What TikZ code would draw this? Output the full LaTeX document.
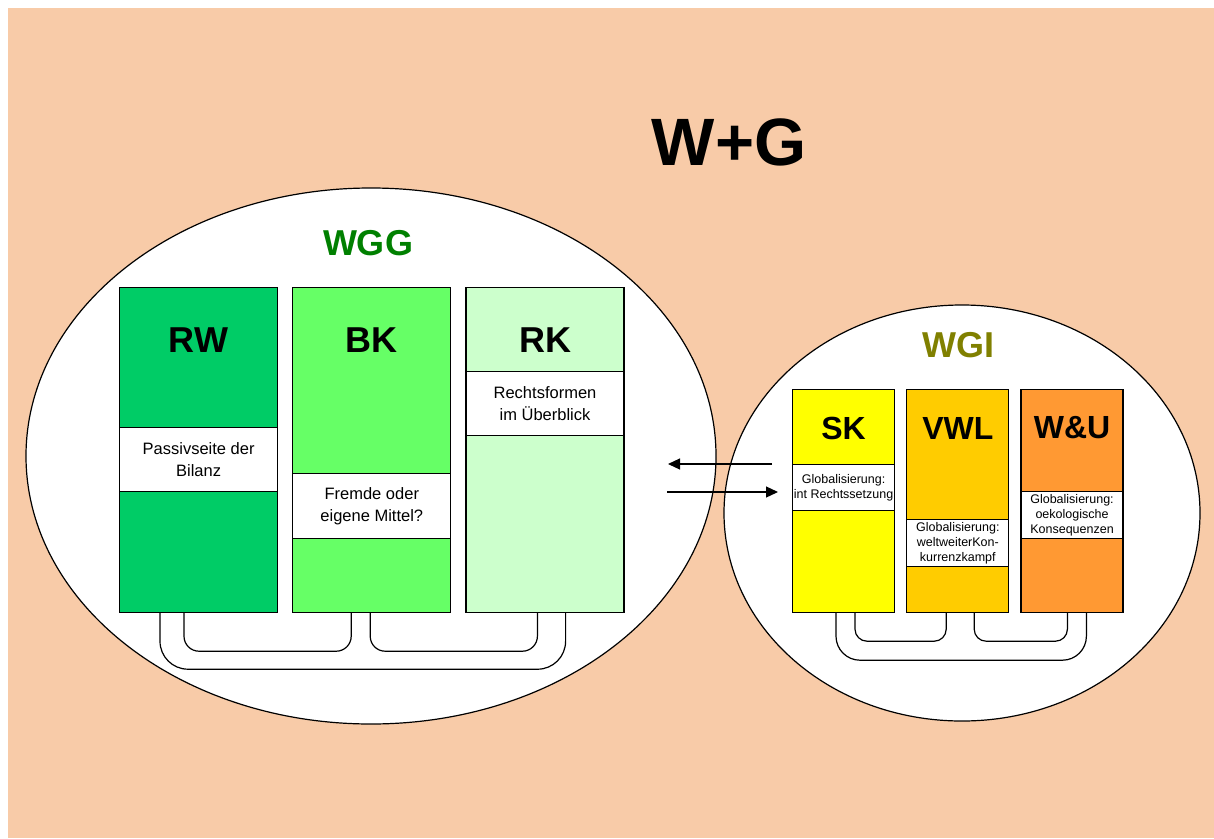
\documentclass[tikz,border=0pt]{standalone}
\usepackage{fontspec}
\setmainfont{Liberation Sans}
\usetikzlibrary{positioning, shapes.geometric, arrows.meta, calc}

\definecolor{peach}{RGB}{248,203,168}
\definecolor{rwgreen}{RGB}{0,204,102}
\definecolor{bkgreen}{RGB}{102,255,102}
\definecolor{rkgreen}{RGB}{204,255,204}
\definecolor{skyellow}{RGB}{255,255,0}
\definecolor{vwlyellow}{RGB}{255,204,0}
\definecolor{wuorange}{RGB}{255,153,51}
\definecolor{wggtext}{RGB}{0,128,0}
\definecolor{wgitext}{RGB}{128,128,0}

\begin{document}
\begin{tikzpicture}[x=1pt, y=-1pt, node distance=14pt,
	area/.style={draw, ellipse, fill=white, line width=1.2pt, inner sep=0pt},
	col/.style={draw, line width=1.2pt, inner sep=0pt, minimum width=158pt, minimum height=325pt},
	scol/.style={draw, line width=1.2pt, inner sep=0pt, minimum width=102pt, minimum height=223pt},
	head/.style={font=\fontsize{36}{40}\selectfont\bfseries},
	shead/.style={font=\fontsize{32}{36}\selectfont\bfseries},
	info/.style={draw, fill=white, line width=1.2pt, anchor=north, inner sep=0pt, minimum width=158pt, minimum height=64pt, align=center, font=\fontsize{16.5}{22}\selectfont},
	sinfo/.style={draw, fill=white, line width=1.2pt, anchor=north, inner sep=0pt, minimum width=102pt, minimum height=47pt, align=center, font=\fontsize{12.5}{15}\selectfont},
	link/.style={line width=1.2pt},
	flow/.style={line width=1.2pt, -{Triangle[length=12pt,width=11pt]}}]
	\useasboundingbox (0,0) rectangle (1214,838);
	\fill[peach] (8,8) rectangle (1214,838);
	
	\node[font=\fontsize{67}{72}\selectfont\bfseries] (title) at (729,142) {W+G};
	
	\node[area, minimum width=690pt, minimum height=536pt] (WGGarea) at (371,456) {};
	\node[area, minimum width=476pt, minimum height=416pt] (WGIarea) at (962,513) {};
	\node[head, text=wggtext] (WGGlabel) at (368,243) {WGG};
	\node[head, text=wgitext] (WGIlabel) at (958,345) {WGI};
	
	% WGG
	\node[col, fill=rwgreen, anchor=north west] (RW) at (119,287) {};
	\node[col, fill=bkgreen, right=of RW] (BK) {};
	\node[col, fill=rkgreen, right=of BK] (RK) {};
	\node[head] (RWhead) at ([yshift=-53pt]RW.north) {RW};
	\node[head] (BKhead) at ([yshift=-53pt]BK.north) {BK};
	\node[head] (RKhead) at ([yshift=-53pt]RK.north) {RK};
	\node[info] (RWText) at ([yshift=-140pt]RW.north) {Passivseite der\\Bilanz};
	\node[info, minimum height=65pt] (BKText) at ([yshift=-186pt]BK.north) {Fremde oder\\eigene Mittel?};
	\node[info] (RKText) at ([yshift=-84pt]RK.north) {Rechtsformen\\im \"Uberblick};
	
	\draw[link, rounded corners=28pt] ([xshift=41pt]RW.south west) -- ++(0,56) -| ([xshift=-59pt]RK.south east);
	\draw[link, rounded corners=15pt] ([xshift=65pt]RW.south west) -- ++(0,38) -| ([xshift=59pt]BK.south west);
	\draw[link, rounded corners=15pt] ([xshift=78pt]BK.south west) -- ++(0,38) -| ([xshift=72pt]RK.south west);
	
	% WGI
	\begin{scope}[node distance=11pt]
	\node[scol, fill=skyellow, anchor=north west] (SK) at (792,389) {};
	\node[scol, fill=vwlyellow, right=of SK] (VWL) {};
	\node[scol, fill=wuorange, right=of VWL] (WU) {};
	\end{scope}
	\node[shead] (SKhead) at ([yshift=-39pt]SK.north) {SK};
	\node[shead] (VWLhead) at ([yshift=-39pt]VWL.north) {VWL};
	\node[shead] (WUhead) at ([yshift=-39pt]WU.north) {W\&U};
	\node[sinfo, minimum height=46pt] (SKText) at ([yshift=-75pt]SK.north) {Globalisierung:\\int Rechtssetzung};
	\node[sinfo] (VWLText) at ([yshift=-130pt]VWL.north) {Globalisierung:\\weltweiterKon-\\kurrenzkampf};
	\node[sinfo] (WUText) at ([yshift=-102pt]WU.north) {Globalisierung:\\oekologische\\Konsequenzen};
	
	\draw[link, rounded corners=24pt] ([xshift=44pt]SK.south west) -- ++(0,47) -| ([xshift=66pt]WU.south west);
	\draw[link, rounded corners=12pt] ([xshift=63pt]SK.south west) -- ++(0,28) -| ([xshift=40pt]VWL.south west);
	\draw[link, rounded corners=12pt] ([xshift=68pt]VWL.south west) -- ++(0,28) -| ([xshift=47pt]WU.south west);
	
	% exchange
	\coordinate (fromWGI) at (772,464);
	\coordinate (toWGG) at (668,464);
	\coordinate (fromWGG) at (667,492);
	\coordinate (toWGI) at (778,492);
	\draw[flow] (fromWGI) -- (toWGG);
	\draw[flow] (fromWGG) -- (toWGI);
\end{tikzpicture}
\end{document}
